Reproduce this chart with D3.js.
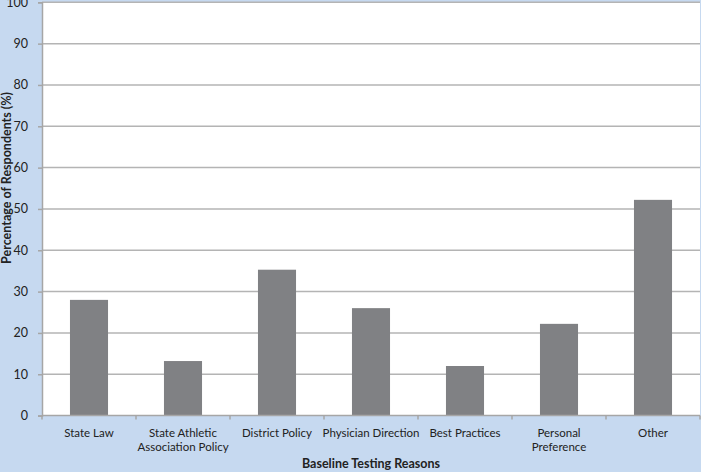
<!DOCTYPE html>
<html>
<head>
<meta charset="utf-8">
<script src="https://cdn.jsdelivr.net/npm/d3@7"></script>
<style>
  body { margin: 0; background: #c6d9f0; }
  svg { display: block; font-family: Lato, "Open Sans", sans-serif; }
</style>
</head>
<body>
<svg id="chart" width="701" height="472"></svg>
<script>
const reasons = ["State Law", "State Athletic\nAssociation Policy", "District Policy", "Physician Direction", "Best Practices", "Personal\nPreference", "Other"];
const percents = [28.0, 13.2, 35.3, 26.0, 12.0, 22.2, 52.2];
const yTicks = [0, 10, 20, 30, 40, 50, 60, 70, 80, 90, 100];

const W = 701, H = 472;
const margin = {top: 2.3, right: 1, bottom: 56.4, left: 42};
const iw = W - margin.left - margin.right, ih = H - margin.top - margin.bottom;

const svg = d3.select("#chart");
svg.append("rect").attr("width", W).attr("height", H).attr("fill", "#c6d9f0");

const g = svg.append("g").attr("transform", `translate(${margin.left},${margin.top})`);
g.append("rect").attr("width", iw).attr("height", ih).attr("fill", "#fff");

const x = d3.scaleBand().domain(reasons).range([0, iw]).paddingInner(0.595).paddingOuter(0.2975);
const xb = d3.scaleBand().domain(reasons).range([0, iw]);
const y = d3.scaleLinear().domain([0, 100]).range([ih, 0]);

// gridlines
g.selectAll("line.grid").data(yTicks.slice(1)).enter().append("line")
  .attr("class", "grid")
  .attr("x1", 0).attr("x2", iw)
  .attr("y1", d => y(d)).attr("y2", d => y(d))
  .attr("stroke", "#b4b4b4").attr("stroke-width", 1.5);

// bars
g.selectAll("rect.bar").data(percents).enter().append("rect")
  .attr("class", "bar")
  .attr("x", (d, i) => x(reasons[i]))
  .attr("width", x.bandwidth())
  .attr("y", d => y(d))
  .attr("height", d => ih - y(d))
  .attr("fill", "#808184");

// y axis
const yAxis = g.append("g").call(d3.axisLeft(y).tickValues(yTicks).tickSize(4).tickPadding(10));
yAxis.select(".domain").attr("stroke", "#a6a6a6").attr("stroke-width", 1.5);
yAxis.selectAll(".tick line").attr("stroke", "#a6a6a6").attr("stroke-width", 1.5);
yAxis.selectAll(".tick text").attr("font-size", 12.5).attr("fill", "#222").attr("font-family", "Lato, sans-serif");

// x axis
const xg = g.append("g").attr("transform", `translate(0,${ih})`);
xg.append("line").attr("x1", 0).attr("x2", iw).attr("stroke", "#a6a6a6").attr("stroke-width", 1.5);
xg.selectAll("line.xt").data(reasons.concat(["end"])).enter().append("line")
  .attr("x1", (d, i) => i * xb.step()).attr("x2", (d, i) => i * xb.step())
  .attr("y1", 0).attr("y2", 4)
  .attr("stroke", "#a6a6a6").attr("stroke-width", 1.5);

const lbl = xg.selectAll("text.xl").data(reasons).enter().append("text")
  .attr("x", d => xb(d) + xb.bandwidth() / 2)
  .attr("y", 21)
  .attr("text-anchor", "middle")
  .attr("font-size", 11.5)
  .attr("fill", "#222");
lbl.each(function(d) {
  d.split("\n").forEach((s, i) => {
    d3.select(this).append("tspan").attr("x", xb(d) + xb.bandwidth() / 2).attr("dy", i ? 14 : 0).text(s);
  });
});

// axis titles
svg.append("text")
  .attr("x", margin.left + iw / 2).attr("y", 468)
  .attr("text-anchor", "middle").attr("font-weight", "bold").attr("font-size", 12.5)
  .attr("fill", "#222")
  .text("Baseline Testing Reasons");

svg.append("text")
  .attr("transform", "translate(11,178) rotate(-90)")
  .attr("text-anchor", "middle").attr("font-weight", "bold").attr("font-size", 12.5)
  .attr("fill", "#222")
  .text("Percentage of Respondents (%)");
</script>
</body>
</html>
